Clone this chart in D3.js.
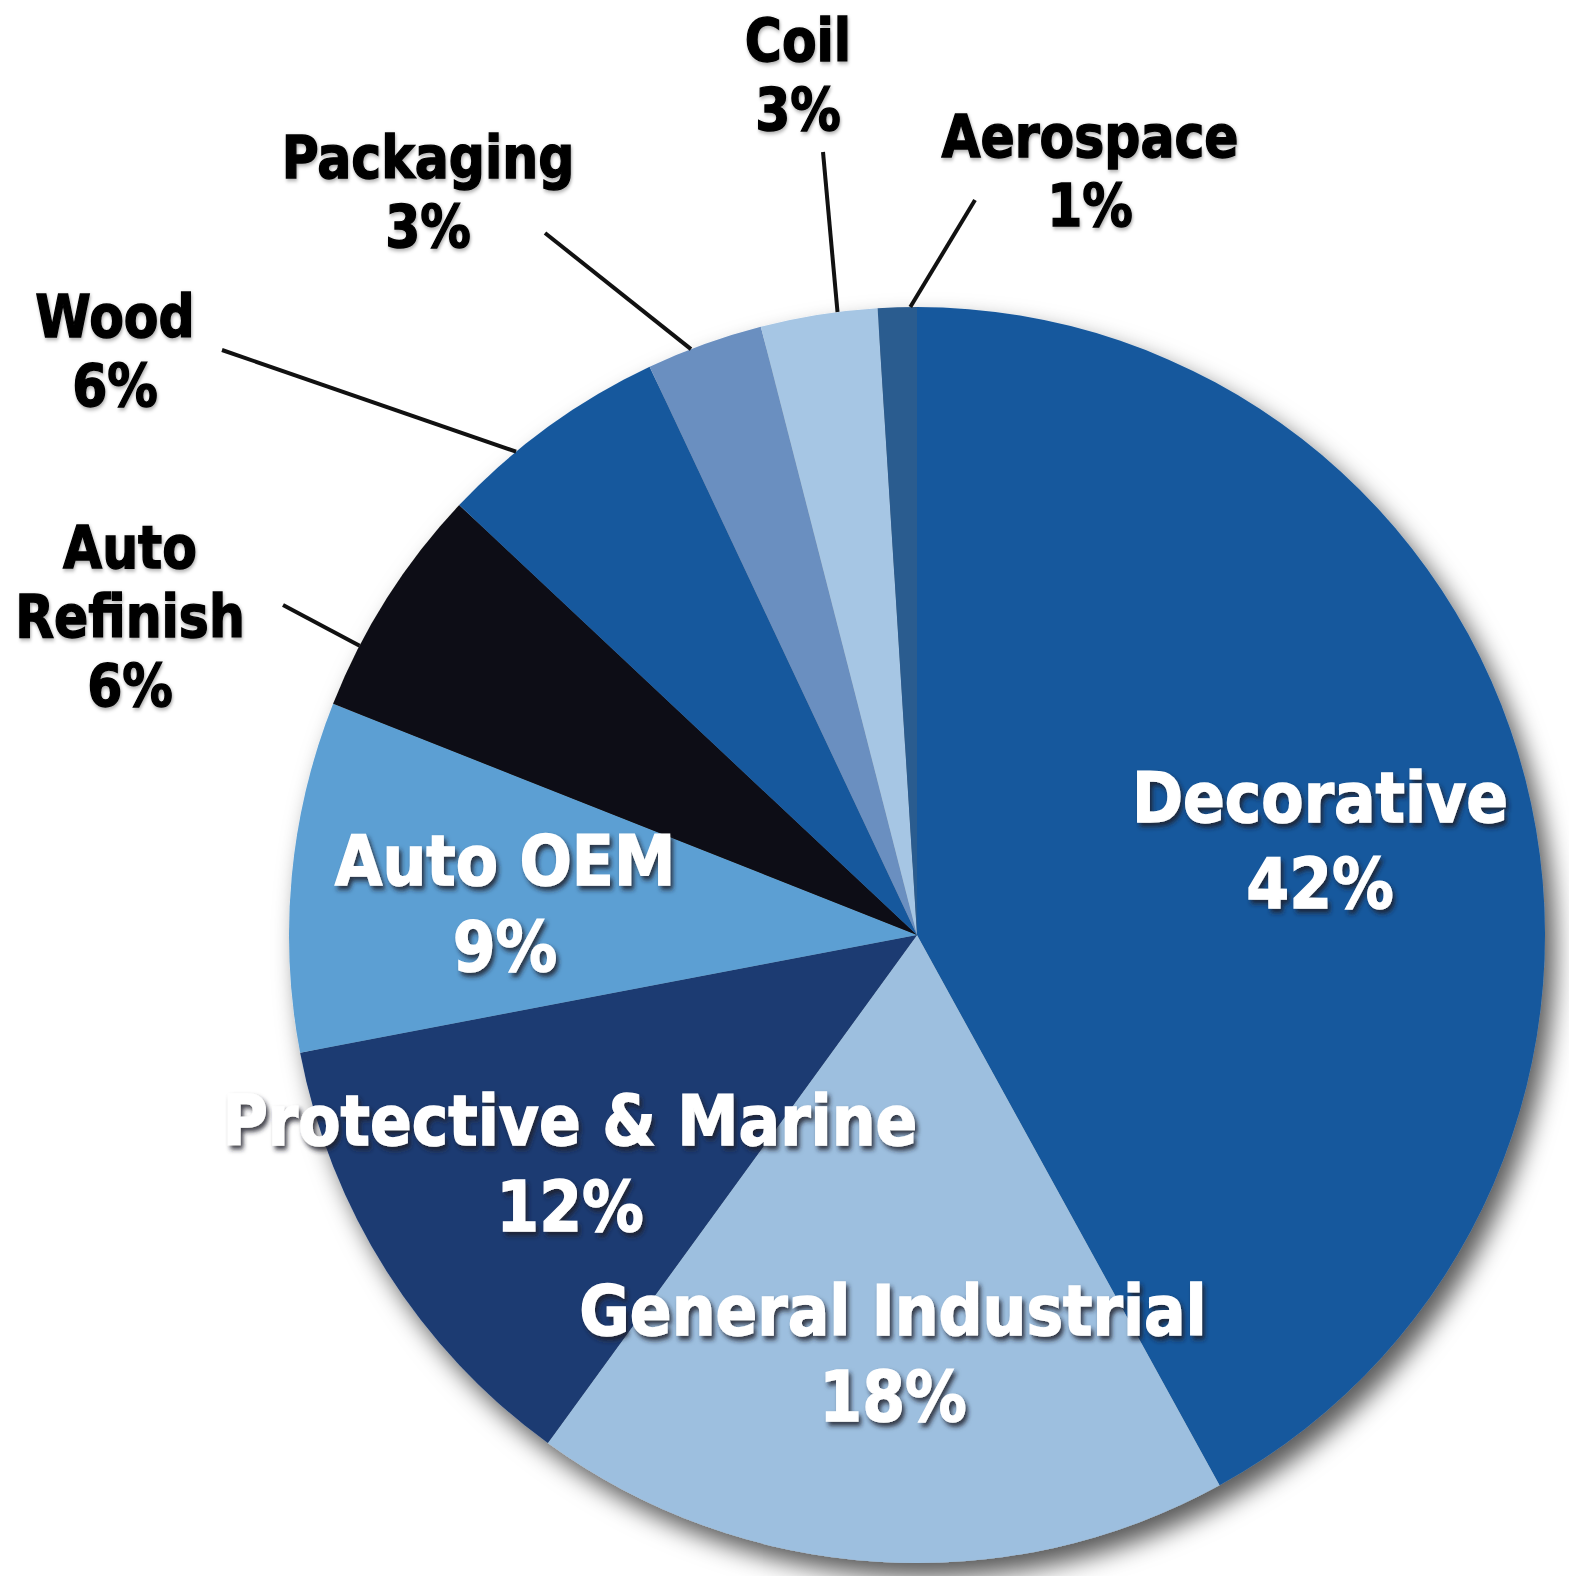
<!DOCTYPE html>
<html>
<head>
<meta charset="utf-8">
<script src="https://cdn.jsdelivr.net/npm/d3@7"></script>
<style>
  html, body { margin: 0; padding: 0; background: #fff; overflow: hidden; }
  text { font-family: "DejaVu Sans", Verdana, sans-serif; font-weight: bold; }
</style>
</head>
<body>
<svg id="chart" width="1569" height="1576"></svg>
<script>
// ── DATA ─────────────────────────────────────────────────────────────────────
const segments = ['Decorative', 'General Industrial', 'Protective & Marine', 'Auto OEM',
                  'Auto Refinish', 'Wood', 'Packaging', 'Coil', 'Aerospace'];
const shares   = [42, 18, 12, 9, 6, 6, 3, 3, 1];
const colours  = ['#18599d', '#9dbfdf', '#1b3b72', '#5c9fd3', '#0c0c12',
                  '#18599d', '#6a8fc0', '#a6c6e4', '#2a5b8f'];

// ── LAYOUT ───────────────────────────────────────────────────────────────────
const CX = 917, CY = 935, R = 628;

// label placement: inside labels are white, outside ones black with a leader
const labelPos = {
  'Decorative':          { x: 1320, y: 822,  lines: ['Decorative'], inside: true },
  'General Industrial':  { x: 893,  y: 1335, lines: ['General Industrial'], inside: true },
  'Protective & Marine': { x: 570,  y: 1145, lines: ['Protective & Marine'], inside: true },
  'Auto OEM':            { x: 505,  y: 885,  lines: ['Auto OEM'], inside: true },
  'Auto Refinish':       { x: 130,  y: 568,  lines: ['Auto', 'Refinish'], lead: [283, 605], at: 0.27 },
  'Wood':                { x: 115,  y: 337,  lines: ['Wood'], lead: [222, 350], at: 0.33 },
  'Packaging':           { x: 428,  y: 178,  lines: ['Packaging'], lead: [545, 233], at: 0.38 },
  'Coil':                { x: 798,  y: 61,   lines: ['Coil'], lead: [823, 152], at: 0.66 },
  'Aerospace':           { x: 1090, y: 157,  lines: ['Aerospace'], lead: [975, 200], at: 0.83 }
};

const svg = d3.select('#chart');
const defs = svg.append('defs');

const pieShadow = defs.append('filter').attr('id', 'pie-shadow')
  .attr('x', '-10%').attr('y', '-10%').attr('width', '125%').attr('height', '125%');
pieShadow.append('feDropShadow')
  .attr('dx', 10).attr('dy', 14).attr('stdDeviation', 12)
  .attr('flood-color', '#000').attr('flood-opacity', 0.65);

const txtShadow = defs.append('filter').attr('id', 'txt-shadow')
  .attr('x', '-10%').attr('y', '-30%').attr('width', '125%').attr('height', '160%');
txtShadow.append('feDropShadow')
  .attr('dx', 3).attr('dy', 4).attr('stdDeviation', 2.5)
  .attr('flood-color', '#1a1a2a').attr('flood-opacity', 0.85);

const outShadow = defs.append('filter').attr('id', 'out-shadow')
  .attr('x', '-10%').attr('y', '-30%').attr('width', '125%').attr('height', '160%');
outShadow.append('feDropShadow')
  .attr('dx', 1).attr('dy', 2).attr('stdDeviation', 2)
  .attr('flood-color', '#000').attr('flood-opacity', 0.35);

const table = segments.map((name, i) => ({ name, value: shares[i], colour: colours[i] }));

const pie = d3.pie().sort(null).value(d => d.value).startAngle(0).endAngle(2 * Math.PI);
const arc = d3.arc().innerRadius(0).outerRadius(R);
const arcs = pie(table);

const g = svg.append('g').attr('transform', `translate(${CX},${CY})`);

g.append('g').attr('filter', 'url(#pie-shadow)')
  .selectAll('path')
  .data(arcs)
  .join('path')
  .attr('d', arc)
  .attr('fill', d => d.data.colour);

// leader lines for the small outside slices
arcs.forEach(a => {
  const p = labelPos[a.data.name];
  if (p.inside) return;
  const ang = a.startAngle + (a.endAngle - a.startAngle) * p.at;
  const [ex, ey] = d3.pointRadial(ang, R);
  svg.append('line')
    .attr('x1', p.lead[0]).attr('y1', p.lead[1])
    .attr('x2', CX + ex).attr('y2', CY + ey)
    .attr('stroke', '#111').attr('stroke-width', 4);
});

// labels
arcs.forEach(a => {
  const p = labelPos[a.data.name];
  const lines = [...p.lines, a.data.value + '%'];
  const size = p.inside ? 70 : 58;
  const step = p.inside ? 86 : 69;
  const sx = p.inside ? 0.88 : 0.87;
  const fill = p.inside ? '#fff' : '#000';
  const t = svg.append('g')
    .attr('transform', `translate(${p.x},${p.y}) scale(${sx},1)`)
    .attr('filter', p.inside ? 'url(#txt-shadow)' : 'url(#out-shadow)');
  lines.forEach((ln, i) => {
    t.append('text')
      .attr('x', 0).attr('y', i * step)
      .attr('text-anchor', 'middle')
      .attr('font-size', size)
      .attr('fill', fill)
      .attr('stroke', fill).attr('stroke-width', 1.4)
      .text(ln);
  });
});
</script>
</body>
</html>
